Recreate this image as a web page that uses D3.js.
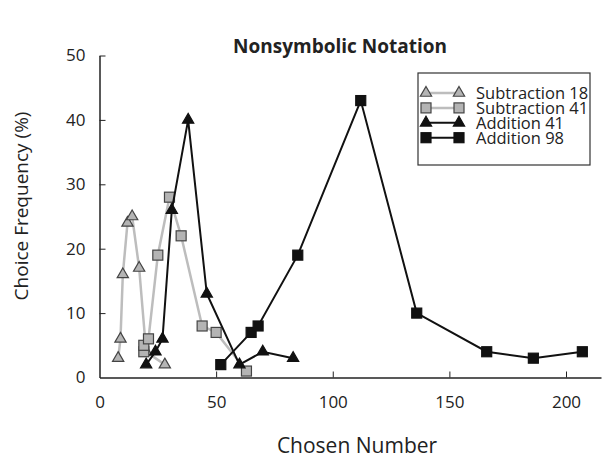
<!DOCTYPE html>
<html>
<head>
<meta charset="utf-8">
<script src="https://cdn.jsdelivr.net/npm/d3@7"></script>
<style>
  body { margin: 0; background: #fff; }
  text { font-family: "Open Sans", "Noto Sans", sans-serif; fill: #222; }
</style>
</head>
<body>
<div id="chart"></div>
<script>
// series values: [chosen number, frequency %]
var sub18 = [[8, 3], [9, 6], [10, 16], [12, 24], [14, 25], [17, 17], [20, 4], [28, 2]]
var sub41 = [[19, 4], [19, 5], [21, 6], [25, 19], [30, 28], [35, 22], [44, 8], [50, 7], [63, 1]]
var add41 = [[20, 2], [24, 4], [27, 6], [31, 26], [38, 40], [46, 13], [60, 2], [70, 4], [83, 3]]
var add98 = [[52, 2], [65, 7], [68, 8], [85, 19], [112, 43], [136, 10], [166, 4], [186, 3], [207, 4]]

var seriesNames = ["Subtraction 18", "Subtraction 41", "Addition 41", "Addition 98"]
var xTicks = [0, 50, 100, 150, 200]
var yTicks = [0, 10, 20, 30, 40, 50]

var series = [
  { name: seriesNames[0], data: sub18, shape: "tri", fill: "#b4b4b4", stroke: "#444", line: "#bdbdbd" },
  { name: seriesNames[1], data: sub41, shape: "sq", fill: "#b4b4b4", stroke: "#444", line: "#bdbdbd" },
  { name: seriesNames[2], data: add41, shape: "tri", fill: "#111", stroke: "#111", line: "#111" },
  { name: seriesNames[3], data: add98, shape: "sq", fill: "#111", stroke: "#111", line: "#111" }
]

var svg = d3.select("#chart").append("svg")
  .attr("width", 610)
  .attr("height", 459)

var x = d3.scaleLinear().domain([0, 215]).range([99.5, 601])
var y = d3.scaleLinear().domain([0, 50]).range([377.5, 55.5])

svg.append("text")
  .attr("x", 340).attr("y", 53)
  .attr("text-anchor", "middle")
  .style("font-size", "19px").style("font-weight", "bold")
  .text("Nonsymbolic Notation")

// axes, ticks pointing inwards
var xAxis = svg.append("g")
  .attr("transform", "translate(0," + y(0) + ")")
  .call(d3.axisBottom(x).tickValues(xTicks).tickSizeInner(-6).tickSizeOuter(0).tickPadding(18))
var yAxis = svg.append("g")
  .attr("transform", "translate(" + x(0) + ",0)")
  .call(d3.axisLeft(y).tickValues(yTicks).tickSizeInner(-6).tickSizeOuter(0).tickPadding(14))

svg.selectAll(".domain").attr("stroke", "#222").attr("stroke-width", 1.5)
svg.selectAll(".tick line").attr("stroke", "#222")
svg.selectAll(".tick text").style("font-size", "17px").style("font-family", '"Open Sans", sans-serif').attr("fill", "#222")
xAxis.selectAll(".tick").filter(d => d == 0).select("line").remove()
yAxis.selectAll(".tick").filter(d => d == 0).select("line").remove()

svg.append("text")
  .attr("x", 357).attr("y", 453)
  .attr("text-anchor", "middle")
  .style("font-size", "21px")
  .text("Chosen Number")

svg.append("text")
  .attr("transform", "translate(28,206) rotate(-90)")
  .attr("text-anchor", "middle")
  .style("font-size", "19px")
  .text("Choice Frequency (%)")

var line = d3.line().x(d => x(d[0])).y(d => y(d[1]))

function marker(sel, shape) {
  if (shape == "tri") {
    sel.append("path").attr("d", d3.symbol().type(d3.symbolTriangle).size(55))
  } else {
    sel.append("rect").attr("x", -5).attr("y", -5).attr("width", 10).attr("height", 10)
  }
}

series.forEach(function(s) {
  var g = svg.append("g")
  g.append("path")
    .datum(s.data)
    .attr("d", line)
    .attr("fill", "none")
    .attr("stroke", s.line)
    .attr("stroke-width", s.line == "#111" ? 2 : 2.5)
  g.selectAll(".pt")
    .data(s.data)
    .join("g")
    .attr("class", "pt")
    .attr("transform", d => "translate(" + x(d[0]) + "," + y(d[1]) + ")")
    .call(marker, s.shape)
    .selectAll("path,rect")
    .attr("fill", s.fill)
    .attr("stroke", s.stroke)
    .attr("stroke-width", 1.2)
})

// legend
var lg = svg.append("g").attr("transform", "translate(418,73)")
lg.append("rect")
  .attr("width", 172).attr("height", 92)
  .attr("fill", "#fff").attr("stroke", "#333").attr("stroke-width", 1.2)

series.forEach(function(s, i) {
  var row = lg.append("g").attr("transform", "translate(0," + (20 + i * 14.9) + ")")
  row.append("line")
    .attr("x1", 8).attr("x2", 41)
    .attr("stroke", s.line).attr("stroke-width", s.line == "#111" ? 2 : 2.5)
  row.selectAll(".m")
    .data([8, 41])
    .join("g")
    .attr("class", "m")
    .attr("transform", d => "translate(" + d + ",0)")
    .call(marker, s.shape)
    .selectAll("path,rect")
    .attr("fill", s.fill).attr("stroke", s.stroke).attr("stroke-width", 1.2)
  row.append("text")
    .attr("x", 58).attr("y", 6)
    .style("font-size", "16.5px")
    .text(s.name)
})
</script>
</body>
</html>
